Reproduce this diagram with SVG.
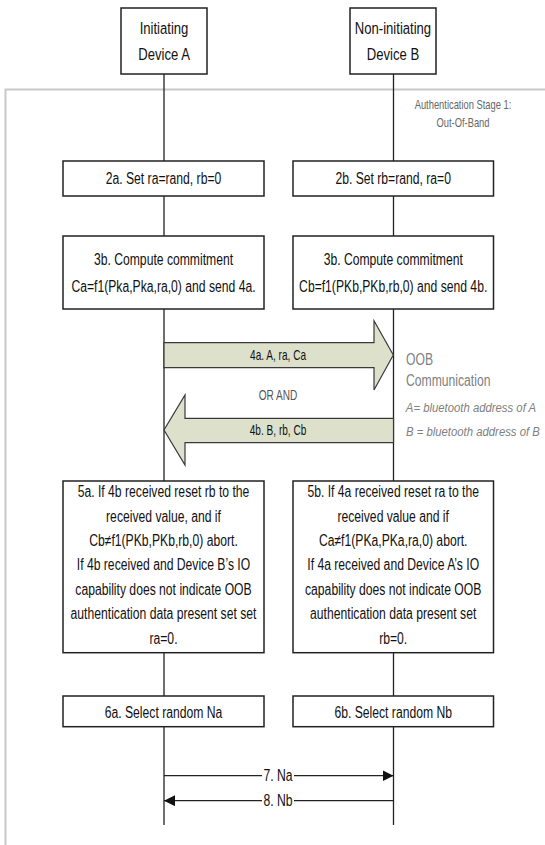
<svg xmlns="http://www.w3.org/2000/svg" width="545" height="845" viewBox="0 0 545 845">
<style>
.box{fill:#fff;stroke:#222;stroke-width:1.5}
.life{stroke:#222;stroke-width:1.3;fill:none}
.msg{stroke:#222;stroke-width:1.3;fill:none}
.fat{fill:#dde1cc;stroke:#3a3a3a;stroke-width:1.2}
.frame{fill:none;stroke:#c8c8c8;stroke-width:2}
text{font-family:"Liberation Sans",Arial,sans-serif;transform-box:fill-box}
.t{font-size:16px;fill:#111;text-anchor:middle;transform-origin:center;transform:scaleX(0.76)}
.h{font-size:17px;fill:#111;text-anchor:middle;transform-origin:center;transform:scaleX(0.77)}
.s{font-size:12px;fill:#666;text-anchor:middle;transform-origin:center;transform:scaleX(0.78)}
.a{font-size:14px;fill:#111;text-anchor:middle;transform-origin:center;transform:scaleX(0.72)}
.g{font-size:14px;fill:#555;text-anchor:middle;transform-origin:center;transform:scaleX(0.72)}
.o{font-size:16px;fill:#808080;text-anchor:start;transform-origin:left center;transform:scaleX(0.76)}
.i{font-size:13.5px;fill:#808080;font-style:italic;text-anchor:start;transform-origin:left center;transform:scaleX(0.84)}
</style>
<defs>
<marker id="ah" viewBox="0 0 10 10" refX="10" refY="5" markerWidth="11" markerHeight="11" markerUnits="userSpaceOnUse" orient="auto-start-reverse">
<path d="M0,0 L10,5 L0,10 Z" fill="#111"/>
</marker>
</defs>
<rect width="545" height="845" fill="#fff"/>
<g id="stage">
<rect class="frame" x="5.5" y="89.5" width="560" height="780"/>
<text class="s" x="463" y="109">Authentication Stage 1:</text>
<text class="s" x="463" y="127.5">Out-Of-Band</text>
</g>
<g id="connectors">
<line class="life" x1="164" y1="74" x2="164" y2="825"/>
<line class="life" x1="393.5" y1="74" x2="393.5" y2="825"/>
<path class="fat" d="M164,342.7 L374,342.7 L374,320.7 L393.3,355 L374,390 L374,367.7 L164,367.7 Z"/>
<text class="a" x="278" y="360">4a. A, ra, Ca</text>
<path class="fat" d="M393.5,418.3 L185,418.3 L185,395 L164,430 L185,465 L185,442.7 L393.5,442.7 Z"/>
<text class="a" x="278" y="435">4b. B, rb, Cb</text>
<line class="msg" x1="164" y1="775.7" x2="262" y2="775.7"/>
<line class="msg" x1="294" y1="775.7" x2="393.5" y2="775.7" marker-end="url(#ah)"/>
<text class="t" x="278" y="781.5">7. Na</text>
<line class="msg" x1="393.5" y1="800.7" x2="294" y2="800.7"/>
<line class="msg" x1="262" y1="800.7" x2="164" y2="800.7" marker-end="url(#ah)"/>
<text class="t" x="278" y="806.5">8. Nb</text>
</g>
<g id="deviceA">
<rect class="box" x="121" y="8" width="86" height="66"/>
<text class="h" x="164" y="34">Initiating</text>
<text class="h" x="164" y="60.5">Device A</text>
</g>
<g id="deviceB">
<rect class="box" x="350" y="8" width="86" height="66"/>
<text class="h" x="393" y="34">Non-initiating</text>
<text class="h" x="393" y="60.5">Device B</text>
</g>
<g id="step2a">
<rect class="box" x="63" y="161" width="201" height="35"/>
<text class="t" x="163.5" y="184">2a. Set ra=rand, rb=0</text>
</g>
<g id="step2b">
<rect class="box" x="293" y="161" width="200.5" height="35"/>
<text class="t" x="393.2" y="184">2b. Set rb=rand, ra=0</text>
</g>
<g id="step3a">
<rect class="box" x="63" y="236" width="201" height="73"/>
<text class="t" x="163.5" y="265">3b. Compute commitment</text>
<text class="t" x="163.5" y="292.3">Ca=f1(Pka,Pka,ra,0) and send 4a.</text>
</g>
<g id="step3b">
<rect class="box" x="293" y="236" width="200.5" height="73"/>
<text class="t" x="393.2" y="265">3b. Compute commitment</text>
<text class="t" x="393.2" y="292.3">Cb=f1(PKb,PKb,rb,0) and send 4b.</text>
</g>
<g id="oob-note">
<text class="o" x="406" y="365">OOB</text>
<text class="o" x="406" y="385.7">Communication</text>
<text class="i" x="406" y="412">A= bluetooth address of A</text>
<text class="i" x="406" y="435.7">B = bluetooth address of B</text>
</g>
<g id="or-and">
<text class="g" x="278" y="400">OR AND</text>
</g>
<g id="step5a">
<rect class="box" x="63" y="481" width="201" height="171.7"/>
<text class="t" x="163.5" y="497.3">5a. If 4b received reset rb to the</text>
<text class="t" x="163.5" y="521.7">received value, and if</text>
<text class="t" x="163.5" y="546.1">Cb≠f1(PKb,PKb,rb,0) abort.</text>
<text class="t" x="163.5" y="570.5">If 4b received and Device B’s IO</text>
<text class="t" x="163.5" y="594.9">capability does not indicate OOB</text>
<text class="t" x="163.5" y="619.3">authentication data present set set</text>
<text class="t" x="163.5" y="643.7">ra=0.</text>
</g>
<g id="step5b">
<rect class="box" x="293" y="481" width="200.5" height="171.7"/>
<text class="t" x="393.2" y="497.3">5b. If 4a received reset ra to the</text>
<text class="t" x="393.2" y="521.7">received value and if</text>
<text class="t" x="393.2" y="546.1">Ca≠f1(PKa,PKa,ra,0) abort.</text>
<text class="t" x="393.2" y="570.5">If 4a received and Device A’s IO</text>
<text class="t" x="393.2" y="594.9">capability does not indicate OOB</text>
<text class="t" x="393.2" y="619.3">authentication data present set</text>
<text class="t" x="393.2" y="643.7">rb=0.</text>
</g>
<g id="step6a">
<rect class="box" x="63" y="696" width="201" height="30.7"/>
<text class="t" x="163.5" y="717.8">6a. Select random Na</text>
</g>
<g id="step6b">
<rect class="box" x="293" y="696" width="200.5" height="30.7"/>
<text class="t" x="393.2" y="717.8">6b. Select random Nb</text>
</g>
</svg>
